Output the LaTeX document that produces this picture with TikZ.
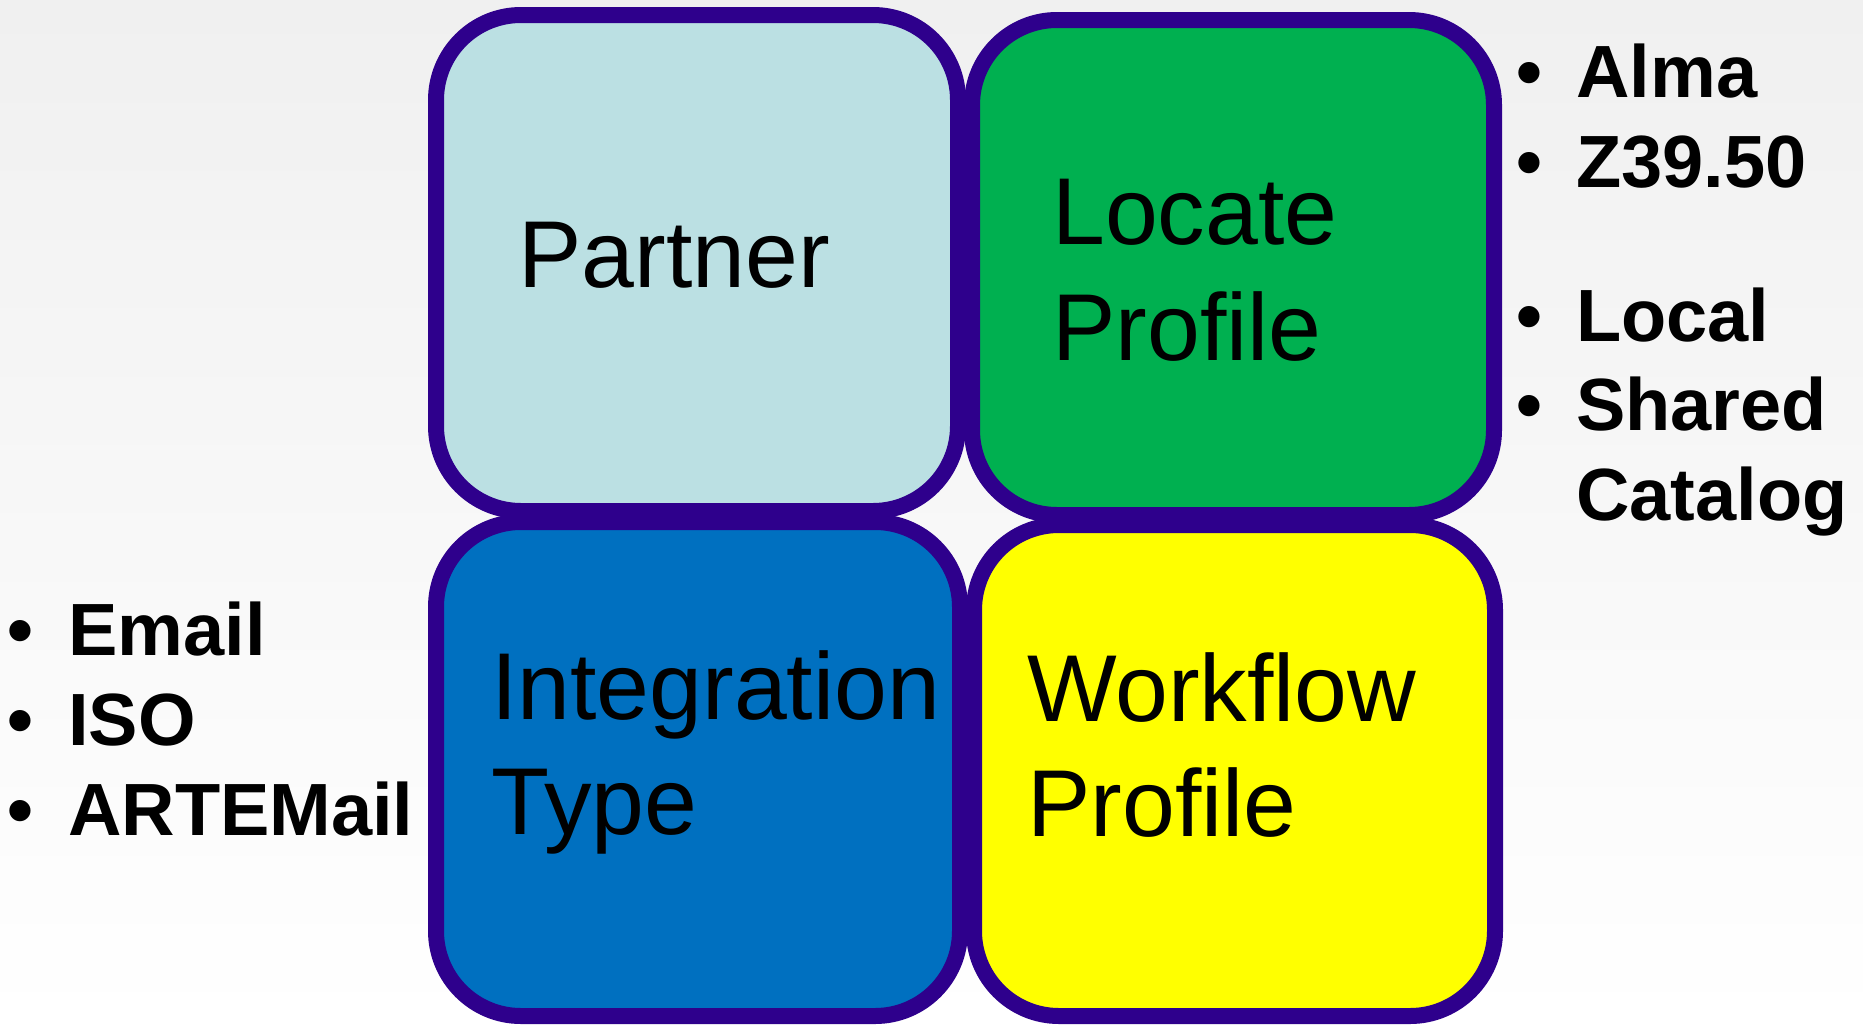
\documentclass[tikz,border=0pt]{standalone}
\usepackage{fontspec}
\setmainfont{Liberation Sans}
\definecolor{bordc}{RGB}{46,0,140}
\definecolor{partnerc}{RGB}{187,224,227}
\definecolor{locatec}{RGB}{0,176,80}
\definecolor{integc}{RGB}{0,112,192}
\definecolor{workc}{RGB}{255,255,0}
\definecolor{bgtop}{RGB}{240,240,240}
\begin{document}
\begin{tikzpicture}[x=1pt,y=-1pt,
  tile/.style={draw=bordc,line width=16pt,rounded corners=85pt,inner sep=0pt},
  big/.style={anchor=base west,inner sep=0pt,font=\fontsize{95}{114}\selectfont},
  item/.style={anchor=base west,inner sep=0pt,font=\fontsize{74}{90}\selectfont\bfseries},
  dot/.style={anchor=base west,inner sep=0pt,font=\fontsize{74}{90}\selectfont\bfseries}]
\useasboundingbox (0,0) rectangle (1863,1026);
\shade[top color=bgtop,bottom color=white] (0,0) rectangle (1863,1026);
% tiles
\node[tile,fill=partnerc,minimum width=522pt,minimum height=496pt] (partner) at (697,263) {};
\node[tile,fill=locatec,minimum width=522pt,minimum height=495pt] (locate) at (1233,267.5) {};
\node[tile,fill=integc,minimum width=524pt,minimum height=494pt] (integ) at (698,769) {};
\node[tile,fill=workc,minimum width=521pt,minimum height=491pt] (work) at (1234.5,770.5) {};
% tile texts
\node[big] (tpartner) at (518,287) {Partner};
\node[big] (tlocate1) at (1052,244) {Locate};
\node[big] (tlocate2) at (1052,360) {Profile};
\node[big] (tinteg1) at (491,719) {Integration};
\node[big] (tinteg2) at (491,834) {Type};
\node[big] (twork1) at (1027,721) {Workflow};
\node[big] (twork2) at (1027,836) {Profile};
% right list
\node[dot] (b1) at (1516,97) {\textbullet};
\node[item] (alma) at (1576,97) {Alma};
\node[dot] (b2) at (1516,187) {\textbullet};
\node[item] (z3950) at (1576,187) {Z39.50};
\node[dot] (b3) at (1516,341) {\textbullet};
\node[item] (local) at (1576,341) {Local};
\node[dot] (b4) at (1516,430) {\textbullet};
\node[item] (shared) at (1576,430) {Shared};
\node[item] (catalog) at (1576,520) {Catalog};
% left list
\node[dot] (b5) at (7,655) {\textbullet};
\node[item] (email) at (68,655) {Email};
\node[dot] (b6) at (7,745) {\textbullet};
\node[item] (iso) at (68,745) {ISO};
\node[dot] (b7) at (7,835) {\textbullet};
\node[item] (artemail) at (68,835) {ARTEMail};
\end{tikzpicture}
\end{document}
